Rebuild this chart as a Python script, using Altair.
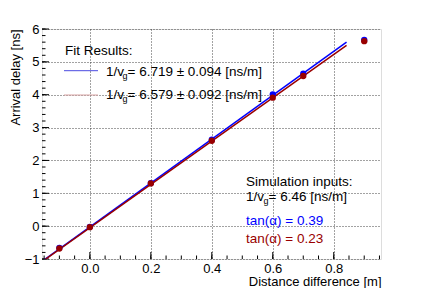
import altair as alt
import pandas as pd

# ---- data ----
dist = [-0.1, 0.0, 0.2, 0.4, 0.6, 0.7, 0.9]
delay_blue = [-0.66, -0.02, 1.31, 2.63, 4.01, 4.64, 5.67]
delay_red = [-0.68, -0.03, 1.30, 2.60, 3.91, 4.57, 5.63]

fit_x = [-0.152, 0.842]
fit_blue = [-1.04, 5.60]
fit_red = [-1.05, 5.50]

x_major = [0.0, 0.2, 0.4, 0.6, 0.8]
x_minor = [round(-0.15 + 0.05 * i, 2) for i in range(23)]
y_major = [-1, 0, 1, 2, 3, 4, 5, 6]
y_minor = [round(-1 + 0.2 * i, 1) for i in range(36)]

BLUE = "#0000ff"
RED = "#990000"
FONT = "Liberation Sans"

W, H = 339, 230

xs = alt.Scale(domain=[-0.157, 0.955], nice=False, zero=False)
ys = alt.Scale(domain=[-1, 6], nice=False, zero=False)

xaxis = alt.Axis(values=x_major, grid=True, gridDash=[1, 2], gridColor="#444",
                 ticks=False, domain=False, labelFont=FONT, labelFontSize=13,
                 labelColor="black", labelPadding=3,
                 title="Distance difference [m]", titleFont=FONT, titleFontSize=13,
                 titleFontWeight="normal", titleColor="black", titleX=W, titleY=26,
                 titleAlign="right", titleBaseline="alphabetic")
yaxis = alt.Axis(values=y_major, grid=True, gridDash=[1, 2], gridColor="#444",
                 ticks=False, domain=False, labelFont=FONT, labelFontSize=13,
                 labelColor="black", labelPadding=3,
                 title="Arrival delay [ns]", titleFont=FONT, titleFontSize=13,
                 titleFontWeight="normal", titleColor="black", titleX=-22.5, titleY=0,
                 titleAngle=270, titleAlign="right", titleBaseline="alphabetic")

pts = pd.DataFrame({"x": dist + dist,
                    "y": delay_blue + delay_red,
                    "s": ["b"] * len(dist) + ["r"] * len(dist)})
fits = pd.DataFrame({"x": fit_x + fit_x, "y": fit_blue + fit_red,
                     "s": ["b", "b", "r", "r"]})

base_pts = alt.Chart(pts)

fit_layers = [
    alt.Chart(fits).transform_filter(alt.datum.s == s).mark_line(
        color=c, strokeWidth=1.5, clip=True).encode(
        x=alt.X("x:Q", scale=xs, axis=xaxis), y=alt.Y("y:Q", scale=ys, axis=yaxis))
    for s, c in [("b", BLUE), ("r", RED)]
]
pt_layers = [
    base_pts.transform_filter(alt.datum.s == s).mark_circle(
        color=c, size=40, opacity=1).encode(
        x=alt.X("x:Q", scale=xs, axis=xaxis), y=alt.Y("y:Q", scale=ys, axis=yaxis))
    for s, c in [("b", BLUE), ("r", RED)]
]

# inward ticks (ROOT style)
def yticks(vals, length):
    return alt.Chart(pd.DataFrame({"v": vals})).mark_rule(color="black", strokeWidth=1).encode(
        y=alt.Y("v:Q", scale=ys, axis=yaxis), x=alt.value(0), x2=alt.value(length))

def xticks(vals, length):
    return alt.Chart(pd.DataFrame({"v": vals})).mark_rule(color="black", strokeWidth=1).encode(
        x=alt.X("v:Q", scale=xs, axis=xaxis), y=alt.value(H), y2=alt.value(H - length))

# annotations (pixel positions relative to plot area)
texts = pd.DataFrame([
    {"px": 23, "py": 26, "t": "Fit Results:", "c": "black", "fs": 13.5},
    {"px": 64, "py": 46.5, "t": "1/v", "c": "black", "fs": 13.5},
    {"px": 80.5, "py": 49.5, "t": "g", "c": "black", "fs": 9},
    {"px": 85.5, "py": 46.5, "t": "= 6.719 ± 0.094 [ns/m]", "c": "black", "fs": 13.5},
    {"px": 64, "py": 69.5, "t": "1/v", "c": "black", "fs": 13.5},
    {"px": 80.5, "py": 72.5, "t": "g", "c": "black", "fs": 9},
    {"px": 85.5, "py": 69.5, "t": "= 6.579 ± 0.092 [ns/m]", "c": "black", "fs": 13.5},
    {"px": 204, "py": 157, "t": "Simulation inputs:", "c": "black", "fs": 13.5},
    {"px": 204, "py": 172, "t": "1/v", "c": "black", "fs": 13.5},
    {"px": 221.5, "py": 175, "t": "g", "c": "black", "fs": 9},
    {"px": 226.5, "py": 172, "t": " = 6.46 [ns/m]", "c": "black", "fs": 13.5},
    {"px": 204, "py": 196, "t": "tan(α) = 0.39", "c": BLUE, "fs": 13.5},
    {"px": 204, "py": 214, "t": "tan(α) = 0.23", "c": RED, "fs": 13.5},
])
text_layer = alt.Chart(texts).mark_text(align="left", baseline="alphabetic", font=FONT).encode(
    x=alt.X("px:Q", scale=None, axis=None),
    y=alt.Y("py:Q", scale=None, axis=None),
    text="t:N",
    color=alt.Color("c:N", scale=None, legend=None),
    size=alt.Size("fs:Q", scale=None, legend=None),
)

leg = pd.DataFrame({"x1": [22, 22], "x2": [56, 56], "yy": [41.7, 66],
                    "c": ["#4a4ae0", "#d9a3a3"]})
leg_layer = alt.Chart(leg).mark_rule(strokeWidth=1).encode(
    x=alt.X("x1:Q", scale=None, axis=None), x2="x2:Q",
    y=alt.Y("yy:Q", scale=None, axis=None),
    color=alt.Color("c:N", scale=None, legend=None),
)

chart = alt.layer(
    yticks(y_minor, 3.5), yticks(y_major, 7), xticks(x_minor, 3.5), xticks(x_major, 7),
    *fit_layers, *pt_layers, leg_layer, text_layer,
).properties(
    width=W, height=H,
    autosize=alt.AutoSizeParams(type="none"),
    padding={"left": 34, "top": 21, "right": 35, "bottom": 29},
).configure_view(stroke="black", strokeWidth=1).configure(background="white")

chart.save("out.html", embed_options={"renderer": "svg", "actions": False})
